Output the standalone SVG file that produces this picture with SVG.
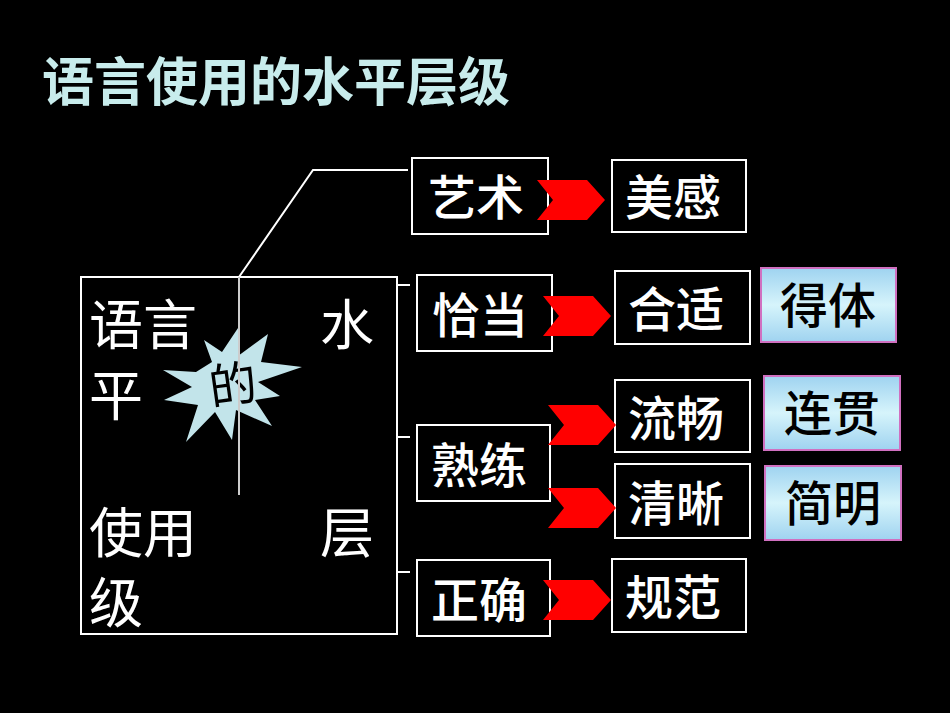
<svg xmlns="http://www.w3.org/2000/svg" width="950" height="713" viewBox="0 0 950 713">
<defs>
<linearGradient id="bg" x1="0" y1="0" x2="0" y2="1"><stop offset="0" stop-color="#9fd3f0"/><stop offset="0.5" stop-color="#d6f4fb"/><stop offset="1" stop-color="#9fd3f0"/></linearGradient>
<polygon id="chev" points="0,-20 50,-20 68,0 50,20 0,20 16,0"/>
</defs>
<style>
.t{font-family:"Noto Sans CJK SC",sans-serif;fill:#fff;font-size:48px;font-weight:500}
.b{fill:#000;stroke:#fff;stroke-width:2}
.g{fill:url(#bg);stroke:#d070c0;stroke-width:2}
.k{font-family:"Noto Sans CJK SC",sans-serif;fill:#000;font-size:48px;font-weight:500;text-anchor:middle}
.m{font-family:"Noto Sans CJK SC",sans-serif;fill:#fff;font-size:54px}
.c{fill:#f00}
</style>
<rect width="950" height="713" fill="#000"/>
<text x="42" y="101" font-family="Noto Sans CJK SC,sans-serif" font-size="52" font-weight="bold" fill="#c8ecec">语言使用的水平层级</text>
<g id="main">
<rect class="b" x="81" y="277" width="316" height="357"/>
<text class="m" x="89" y="345">语言</text>
<text class="m" x="320" y="345">水</text>
<text class="m" x="89" y="416">平</text>
<text class="m" x="89" y="553">使用</text>
<text class="m" x="320" y="553">层</text>
<text class="m" x="89" y="623">级</text>
</g>
<g id="burst">
<polygon fill="#c2e4ea" points="196,372 163,370 192,387 164,400 198,405 186,442 215,412 232,440 236,410 272,426 255,400 280,396 258,382 302,367 261,362 268,334 238,356 240,325 222,352 204,340 212,362"/>
<text x="233" y="402" font-family="Noto Sans CJK SC,sans-serif" font-size="48" text-anchor="middle" fill="#000" transform="rotate(-8 233 385)">的</text>
</g>
<g id="connectors" stroke="#fff" stroke-width="2" fill="none">
<polyline points="239,277 313,170 408,170"/>
<line x1="239" y1="277" x2="239" y2="495" stroke="#ccc"/>
<line x1="397" y1="285" x2="410" y2="285"/>
<line x1="397" y1="437" x2="410" y2="437"/>
<line x1="397" y1="572" x2="410" y2="572"/>
</g>
<g id="n1"><rect class="b" x="412" y="158" width="136" height="76"/><text class="t" x="428" y="215">艺术</text></g>
<g id="n2"><rect class="b" x="417" y="275" width="135" height="76"/><text class="t" x="432" y="333">恰当</text></g>
<g id="n3"><rect class="b" x="417" y="425" width="133" height="76"/><text class="t" x="431" y="483">熟练</text></g>
<g id="n4"><rect class="b" x="417" y="560" width="133" height="76"/><text class="t" x="431" y="618">正确</text></g>
<g id="n5"><rect class="b" x="612" y="160" width="134" height="72"/><text class="t" x="625" y="215">美感</text></g>
<g id="n6"><rect class="b" x="615" y="271" width="135" height="73"/><text class="t" x="628" y="327">合适</text></g>
<g id="n7"><rect class="b" x="615" y="380" width="135" height="72"/><text class="t" x="628" y="436">流畅</text></g>
<g id="n8"><rect class="b" x="615" y="464" width="135" height="74"/><text class="t" x="628" y="521">清晰</text></g>
<g id="n9"><rect class="b" x="612" y="559" width="134" height="73"/><text class="t" x="625" y="615">规范</text></g>
<g id="n10"><rect class="g" x="761" y="268" width="135" height="74"/><text class="k" x="828" y="323">得体</text></g>
<g id="n11"><rect class="g" x="764" y="376" width="136" height="74"/><text class="k" x="832" y="431">连贯</text></g>
<g id="n12"><rect class="g" x="765" y="466" width="136" height="74"/><text class="k" x="833" y="521">简明</text></g>
<g id="arrows">
<use href="#chev" class="c" x="537" y="200"/>
<use href="#chev" class="c" x="543" y="316"/>
<use href="#chev" class="c" x="548" y="425"/>
<use href="#chev" class="c" x="548" y="508"/>
<use href="#chev" class="c" x="543" y="600"/>
</g>
</svg>
